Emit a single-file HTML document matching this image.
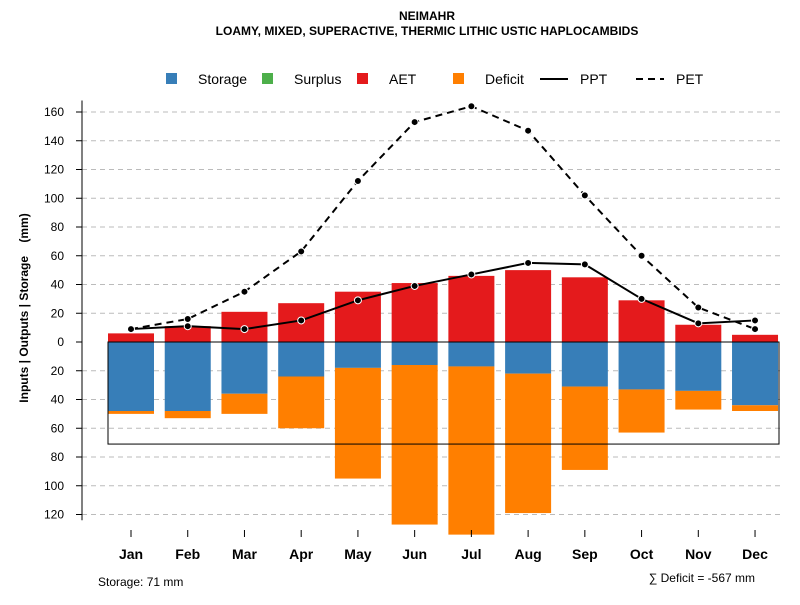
<!DOCTYPE html>
<html><head><meta charset="utf-8"><style>
body{margin:0;background:#fff}
svg text{font-family:"Liberation Sans",sans-serif}
</style></head><body>
<svg id="c" width="800" height="600" xmlns="http://www.w3.org/2000/svg">
<text x="427" y="20" text-anchor="middle" font-size="12" font-weight="bold">NEIMAHR</text>
<text x="427" y="35" text-anchor="middle" font-size="12" font-weight="bold">LOAMY, MIXED, SUPERACTIVE, THERMIC LITHIC USTIC HAPLOCAMBIDS</text>
<g font-size="14">
<rect x="166" y="73" width="11" height="11" fill="#377EB8"/><text x="198" y="84">Storage</text>
<rect x="262" y="73" width="11" height="11" fill="#4DAF4A"/><text x="294" y="84">Surplus</text>
<rect x="357" y="73" width="11" height="11" fill="#E41A1C"/><text x="389" y="84">AET</text>
<rect x="453" y="73" width="11" height="11" fill="#FF7F00"/><text x="485" y="84">Deficit</text>
<line x1="540" y1="79" x2="568" y2="79" stroke="#000" stroke-width="2"/><text x="580" y="84">PPT</text>
<line x1="636" y1="79" x2="664" y2="79" stroke="#000" stroke-width="2" stroke-dasharray="7,5"/><text x="676" y="84">PET</text>
</g>
<text transform="translate(28,308) rotate(-90)" text-anchor="middle" font-size="12" font-weight="bold" style="white-space:pre">Inputs | Outputs | Storage    (mm)</text>
<text x="98" y="586" font-size="12">Storage: 71 mm</text>
<text x="755" y="582" text-anchor="end" font-size="12">∑ Deficit = -567 mm</text>
<g id="grid"></g><g id="bars"></g><g id="lines"></g><g id="axes"></g>
</svg>
<script>
const months=["Jan","Feb","Mar","Apr","May","Jun","Jul","Aug","Sep","Oct","Nov","Dec"];
const aet=[6,11,21,27,35,41,46,50,45,29,12,5];
const ppt=[9,11,9,15,29,39,47,55,54,30,13,15];
const pet=[9,16,35,63,112,153,164,147,102,60,24,9];
const storage=[48,48,36,24,18,16,17,22,31,33,34,44];
const deficit=[2,5,14,36,77,111,117,97,58,30,13,4];
const yTicksUp=[0,20,40,60,80,100,120,140,160];
const yTicksDown=[20,40,60,80,100,120];
const storageCap=71;
const NS="http://www.w3.org/2000/svg";
const y=v=>342-v*1.4375;
const x=i=>131+i*56.73;
const bw=46;
function mk(tag,attrs,parent){const e=document.createElementNS(NS,tag);for(const k in attrs)e.setAttribute(k,attrs[k]);document.getElementById(parent).appendChild(e);return e;}
yTicksUp.concat(yTicksDown.map(v=>-v)).forEach(v=>{
 if(v!==0){const g=mk('line',{x1:82,x2:780,y1:y(v),y2:y(v),stroke:'#bbb','stroke-dasharray':'5,4'},'grid');
 
 }
 const t=mk('line',{x1:76,x2:82,y1:y(v),y2:y(v),stroke:'#000'},'axes');
 
 
 const l=mk('text',{x:64,y:y(v)+4,'text-anchor':'end','font-size':12},'axes');l.textContent=Math.abs(v);
 
 
});
const ax=mk('line',{x1:82,x2:82,y1:y(168),y2:y(-124),stroke:'#000'},'axes');


months.forEach((m,i)=>{
 const a=mk('rect',{x:x(i)-bw/2,y:y(aet[i]),width:bw,height:aet[i]*1.4375,fill:'#E41A1C'},'bars');
 
 
 const s=mk('rect',{x:x(i)-bw/2,y:342,width:bw,height:storage[i]*1.4375,fill:'#377EB8'},'bars');
 
 
 const d=mk('rect',{x:x(i)-bw/2,y:y(-storage[i]),width:bw,height:deficit[i]*1.4375,fill:'#FF7F00'},'bars');
 
 
 const t=mk('line',{x1:x(i),x2:x(i),y1:530,y2:537,stroke:'#000'},'axes');
 
 
 const l=mk('text',{x:x(i),y:559,'text-anchor':'middle','font-size':14,'font-weight':'bold'},'axes');l.textContent=m;
 
 
});
const bx=mk('rect',{x:108,y:342,width:671,height:storageCap*1.4375,fill:'none',stroke:'#000'},'bars');


const zl=mk('line',{x1:108,x2:779,y1:342,y2:342,stroke:'#000'},'bars');


[[pet,'7,5','pet'],[ppt,null,'ppt']].forEach(([arr,dash,nm])=>{
 const p=mk('polyline',{points:arr.map((v,i)=>x(i)+','+y(v)).join(' '),fill:'none',stroke:'#000','stroke-width':2},'lines');
 if(dash)p.setAttribute('stroke-dasharray',dash);
 
 
 arr.forEach((v,i)=>{const c=mk('circle',{cx:x(i),cy:y(v),r:3.5,fill:'#000',stroke:'#fff','stroke-width':1},'lines');
 
 });
});
</script>
</body></html>
